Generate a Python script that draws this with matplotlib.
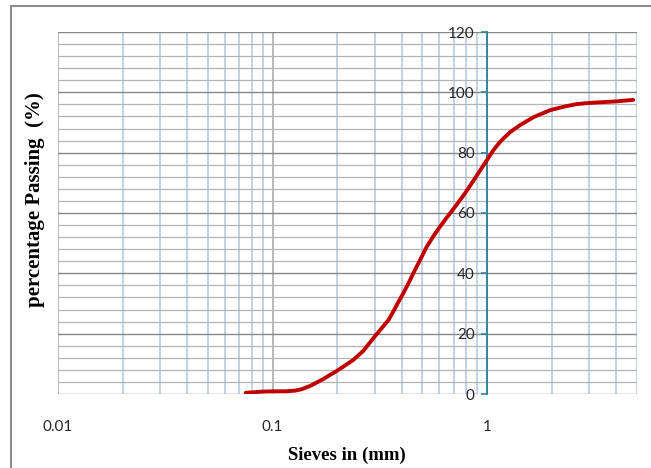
import numpy as np
import matplotlib.pyplot as plt
from matplotlib.patches import Rectangle
from matplotlib.ticker import FixedLocator, NullFormatter


# sieve size (mm) vs percentage passing
sieve_mm = [0.075, 0.09, 0.1, 0.115, 0.127, 0.137, 0.15, 0.173, 0.186, 0.2,
            0.238, 0.265, 0.295, 0.347, 0.37, 0.386, 0.407, 0.438, 0.453, 0.496,
            0.523, 0.562, 0.60, 0.649, 0.70, 0.78, 0.86, 0.93, 1.0, 1.07,
            1.15, 1.28, 1.43, 1.65, 1.97, 2.3, 2.62, 3.0, 3.37, 4.0, 4.8]
passing = [0.4, 0.8, 0.9, 0.9, 1.1, 1.6, 2.7, 5.0, 6.4, 7.7,
           11.3, 14.3, 18.5, 24.5, 28.0, 30.5, 33.4, 37.8, 40.0, 45.5,
           48.8, 52.3, 55.2, 58.5, 61.5, 66.0, 70.5, 74.2, 77.6, 80.8,
           83.6, 86.8, 89.2, 91.8, 94.1, 95.3, 96.1, 96.5, 96.7, 97.0, 97.5]

x_ticks = [0.01, 0.1, 1]
x_tick_labels = ["0.01", "0.1", "1"]
y_ticks = [0, 20, 40, 60, 80, 100, 120]

W, H = 651, 468
fig = plt.figure(figsize=(W / 100, H / 100), dpi=100)
ax = fig.add_axes([58 / W, (H - 394) / H, (637 - 58) / W, (394 - 32) / H])

ax.set_xscale("log")
ax.set_xlim(0.01, 5)
ax.set_ylim(0, 120)

# grid: light blue verticals, grey horizontals
minor_x = [m * d for d in (0.01, 0.1, 1) for m in range(2, 10) if m * d <= 5]
for xv in minor_x:
    ax.axvline(xv, color="#b3c8e2", lw=1.1, zorder=1)
for xv in (0.01, 0.1):
    ax.axvline(xv, color="#a6a6a6", lw=1.1, zorder=1)
for yv in np.arange(0, 121, 4):
    if yv % 20 == 0:
        ax.axhline(yv, color="#868686", lw=1.0, zorder=1)
    else:
        ax.axhline(yv, color="#b4b4b4", lw=0.9, zorder=1)

for side in ("top", "right", "bottom"):
    ax.spines[side].set_visible(False)
ax.spines["left"].set_position(("data", 1))
ax.spines["left"].set_color("#31859c")
ax.spines["left"].set_linewidth(1.4)
ax.spines["left"].set_zorder(2)

ax.plot(sieve_mm, passing, color="#c00000", lw=2.8, solid_capstyle="round",
        solid_joinstyle="round", zorder=3)

ax.yaxis.set_major_locator(FixedLocator(y_ticks))
ax.tick_params(axis="y", direction="out", length=4, width=1.2, color="#31859c",
               labelsize=11, labelcolor="#262626", pad=5)
ax.xaxis.set_major_locator(FixedLocator(x_ticks))
ax.set_xticklabels(x_tick_labels)
ax.xaxis.set_minor_formatter(NullFormatter())
ax.tick_params(axis="x", which="both", length=0, labelsize=11,
               labelcolor="#262626", pad=19)
for lbl in ax.get_xticklabels() + ax.get_yticklabels():
    lbl.set_family("Lato")

fig.text(347 / W, 1 - 455 / H, "Sieves in (mm)", ha="center", va="center",
         fontsize=13.5, fontweight="bold", family="Liberation Serif")
fig.text(35 / W, 1 - 200 / H, "percentage Passing  (%)", ha="center", va="center",
         rotation=90, fontsize=15, fontweight="bold", family="Liberation Serif")

fig.patches.append(Rectangle((11 / W, -0.01), 1, 1 - 6 / H + 0.01,
                             transform=fig.transFigure, fill=False,
                             edgecolor="#8c8c8c", lw=1.5))

fig.savefig("out.png", dpi=100)
